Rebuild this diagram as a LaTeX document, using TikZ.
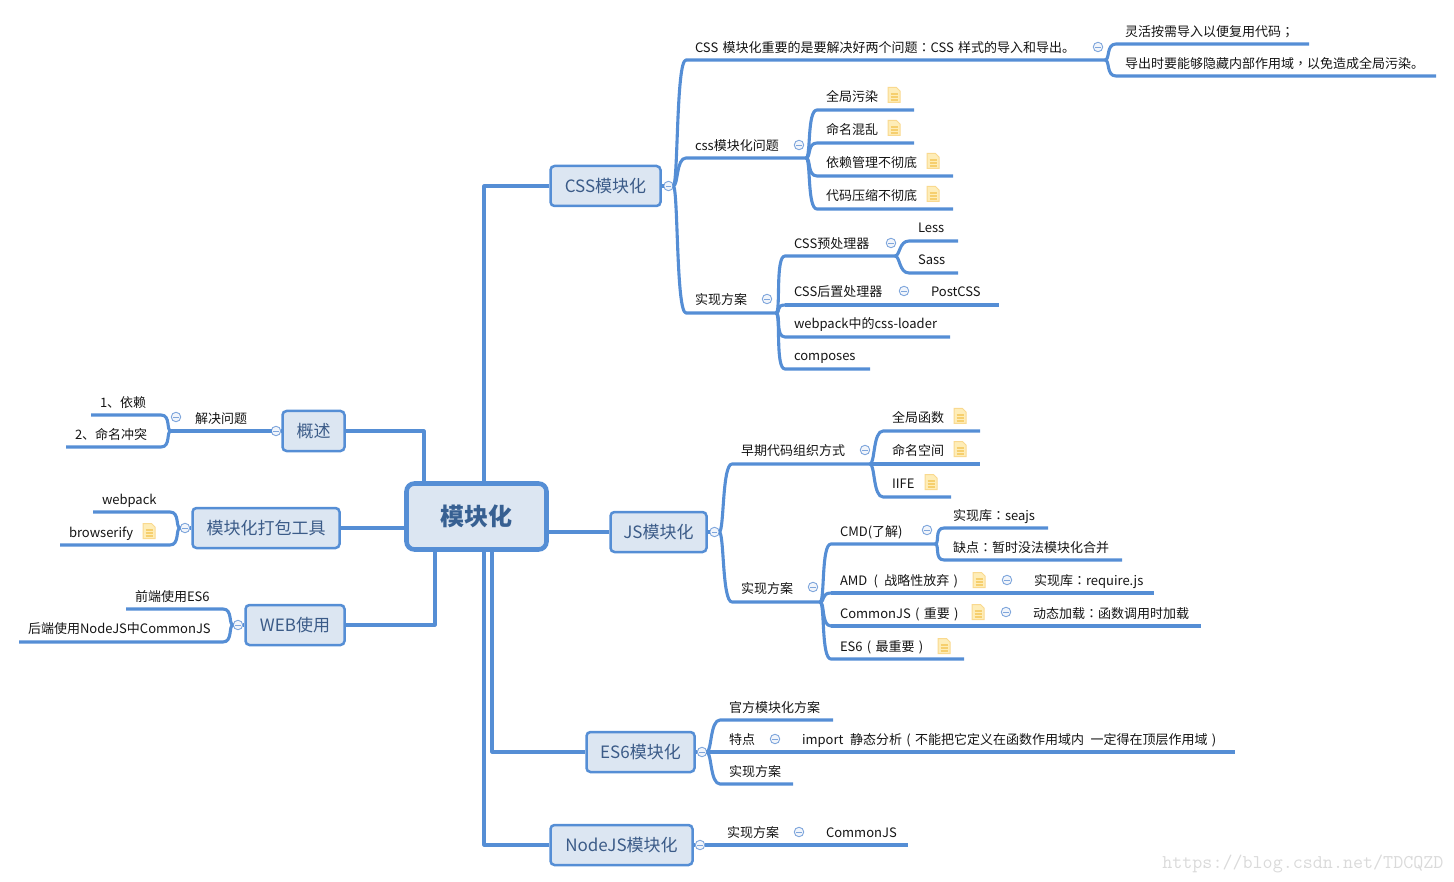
\documentclass[tikz,border=0pt]{standalone}
\usepackage{fontspec}
\setmainfont{Noto Sans CJK SC}
\newfontfamily\tcfont{Noto Sans CJK TC}
\newcommand{\pu}[1]{{\tcfont #1}}
\newcommand{\lpar}[1][13pt]{\makebox[#1]{(}}
\newcommand{\rpar}{\makebox[13pt]{)}}
\usetikzlibrary{calc}
\definecolor{linkc}{HTML}{558ED5}
\definecolor{boxfill}{HTML}{DCE6F2}
\definecolor{boxtext}{HTML}{3B5B88}
\definecolor{roottext}{HTML}{376092}
\definecolor{foldc}{HTML}{7FA6DC}
\definecolor{foldfill}{HTML}{F1F5FB}
\definecolor{notefill}{HTML}{FEEDB8}
\definecolor{noteline}{HTML}{F9D98F}
\definecolor{notebar}{HTML}{F6CF6E}
\definecolor{inkc}{HTML}{141414}
\definecolor{markc}{HTML}{DADADA}
\tikzset{
  link/.style={draw=linkc, line width=3.1pt, line join=round},
  fork/.style={to path={.. controls ($(\tikztostart)+(#1*5,0)$) and ($(\tikztotarget)+(#1*-10,0)$) .. (\tikztotarget)}},
  fork/.default=1,
  root/.style={draw=linkc, fill=boxfill, line width=4.6pt, rounded corners=8pt, minimum width=140pt, minimum height=66pt, font=\fontsize{24}{24}\selectfont\bfseries, text=roottext},
  topic/.style={draw=linkc, fill=boxfill, line width=2.5pt, rounded corners=4pt, minimum height=40pt, inner sep=0pt, font=\fontsize{17}{17}\selectfont, text=boxtext},
  leaf/.style={anchor=south west, inner xsep=9pt, inner ysep=0pt, outer sep=0pt, text width={#1pt-18pt}, align=left, text height=10pt, text depth=8pt, font=\fontsize{13}{13}\selectfont, text=inkc},
  fold/.style={circle, draw=foldc, fill=foldfill, line width=0.9pt, minimum size=9.5pt, inner sep=0pt, outer sep=0pt,
    path picture={\draw[draw=foldc, line width=0.8pt] ([xshift=2pt]path picture bounding box.west) -- ([xshift=-2pt]path picture bounding box.east);}},
  note/.pic={
    \filldraw[draw=noteline, fill=notefill, line width=1pt] (-6,-7.5)--(2.5,-7.5)--(6,-4)--(6,7.5)--(-6,7.5)--cycle;
    \draw[draw=notebar, line width=1.3pt] (-3.5,-1)--(3.5,-1) (-3.5,2)--(3.5,2) (-3.5,5)--(3.5,5);
  },
}
\begin{document}
\begin{tikzpicture}[x=1pt, y=-1pt]
  \useasboundingbox (0,0) rectangle (1454,882);
  % main boxes
  \node[root] (main) at (476.5,516.5) {模块化};
  \node[topic, minimum width=110pt] (css) at (605.5,186) {CSS模块化};
  \node[topic, minimum width=96pt] (js) at (658.5,532) {JS模块化};
  \node[topic, minimum width=108pt] (es) at (640.5,752) {ES6模块化};
  \node[topic, minimum width=142pt] (nd) at (621.5,845) {NodeJS模块化};
  \node[topic, minimum width=62pt] (gs) at (313.5,431) {概述};
  \node[topic, minimum width=147pt] (pk) at (266,528) {模块化打包工具};
  \node[topic, minimum width=99pt] (wb) at (295,625) {WEB使用};
  % css
  \node[fold] (cssf) at (668.5,186) {};
  \node[leaf=419, text depth=7pt] (cssa) at (686,60) {CSS 模块化重要的是要解决好两个问题\pu{：}CSS 样式的导入和导出。};
  \node[fold] (cssaf) at (1098,47) {};
  \node[leaf=193, text depth=7pt] (cssa1) at (1116,44) {灵活按需导入以便复用代码\pu{；}};
  \node[leaf=320, text depth=7pt] (cssa2) at (1116,76) {导出时要能够隐藏内部作用域\pu{，}以免造成全局污染。};
  \node[leaf=120, text depth=7pt] (cssb) at (686,158) {css模块化问题};
  \node[fold] (cssbf) at (799,145) {};
  \node[leaf=97] (cssb1) at (817,110) {全局污染};
  \node[leaf=97] (cssb2) at (817,143) {命名混乱};
  \node[leaf=136] (cssb3) at (817,176) {依赖管理不彻底};
  \node[leaf=136] (cssb4) at (817,209) {代码压缩不彻底};
  \node[leaf=90] (cssc) at (686,313) {实现方案};
  \node[fold] (csscf) at (767,299) {};
  \node[leaf=110, text depth=7pt] (cssc1) at (785,256) {CSS预处理器};
  \node[fold] (cssc1f) at (891,243) {};
  \node[leaf=49] (less) at (909,241) {Less};
  \node[leaf=49] (sass) at (909,273) {Sass};
  \node[leaf=137] (cssc2) at (785,305) {CSS后置处理器};
  \node[fold] (cssc2f) at (904,291) {};
  \node[leaf=77] (postcss) at (922,305) {PostCSS};
  \node[leaf=165] (cssc3) at (785,337) {webpack中的css-loader};
  \node[leaf=85] (cssc4) at (785,369) {composes};
  % js
  \node[fold] (jsf) at (714.5,532) {};
  \node[leaf=138] (jsa) at (732,464) {早期代码组织方式};
  \node[fold] (jsaf) at (865,450) {};
  \node[leaf=97] (jsa1) at (883,431) {全局函数};
  \node[leaf=97] (jsa2) at (883,464) {命名空间};
  \node[leaf=68, text depth=9pt] (jsa3) at (883,497) {IIFE};
  \node[leaf=88, text depth=8.5pt] (jsb) at (732,602) {实现方案};
  \node[fold] (jsbf) at (813,587) {};
  \node[leaf=104] (cmd) at (831,544) {CMD(了解)};
  \node[fold] (cmdf) at (927,530) {};
  \node[leaf=104] (cmd1) at (944,528) {实现库\pu{：}seajs};
  \node[leaf=178] (cmd2) at (944,560) {缺点\pu{：}暂时没法模块化合并};
  \node[leaf=194] (amd) at (831,593) {AMD\lpar[17pt]战略性放弃\rpar};
  \node[fold] (amdf) at (1007,580) {};
  \node[leaf=129] (amd1) at (1025,593) {实现库\pu{：}require.js};
  \node[leaf=193] (cjs) at (831,626) {CommonJS\lpar 重要\rpar};
  \node[fold] (cjsf) at (1006,612) {};
  \node[leaf=177] (cjs1) at (1024,626) {动态加载\pu{：}函数调用时加载};
  \node[leaf=133] (esm) at (831,659) {ES6\lpar 最重要\rpar};
  % es6
  \node[fold] (esf) at (702,752) {};
  \node[leaf=113] (esa) at (720,720) {官方模块化方案};
  \node[leaf=73] (esb) at (720,752) {特点};
  \node[fold] (esbf) at (775,739) {};
  \node[leaf=442] (esb1) at (793,752) {import\enspace 静态分析\lpar 不能把它定义在函数作用域内\enspace 一定得在顶层作用域\rpar};
  \node[leaf=73] (esc) at (720,784) {实现方案};
  % nodejs
  \node[fold] (ndf) at (700,845) {};
  \node[leaf=99] (nda) at (718,845) {实现方案};
  \node[fold] (ndaf) at (799,832) {};
  \node[leaf=91] (nda1) at (817,845) {CommonJS};
  % left side
  \node[fold] (gsf) at (276,431) {};
  \node[leaf=100, align=center, text depth=7pt] (gsa) at (171,431) {解决问题};
  \node[fold] (gsaf) at (176,417) {};
  \node[leaf=70, text depth=7pt] (gsa1) at (91,415) {1、依赖};
  \node[leaf=95] (gsa2) at (66,447) {2、命名冲突};
  \node[fold] (pkf) at (185,528) {};
  \node[leaf=77] (pka) at (93,512) {webpack};
  \node[leaf=110] (pkb) at (60,545) {browserify};
  \node[fold] (wbf) at (238,625) {};
  \node[leaf=97] (wba) at (126,609) {前端使用ES6};
  \node[leaf=204, text depth=9pt] (wbb) at (19,642) {后端使用NodeJS中CommonJS};
  % notes
  \foreach \nx/\ny in {894/95, 894/128, 933/161, 933/194, 960/416, 960/449, 931/482, 979/580, 978/612, 944/646, 149/531}
    \pic at (\nx,\ny) {note};
  % connectors
  \draw[link] (css.west) -| ([xshift=7.5pt]main.north);
  \draw[link] (js.west) -- (js.west -| main.east);
  \draw[link] (es.west) -| ([xshift=15.5pt]main.south);
  \draw[link] (nd.west) -| ([xshift=7.5pt]main.south);
  \draw[link] (gs.east) -| ([xshift=-52.5pt]main.north);
  \draw[link] (pk.east) -- (pk.east -| main.west);
  \draw[link] (wb.east) -| ([xshift=-41.5pt]main.south);
  \draw[link] (css.east) -- (cssf.west);
  \draw[link] (js.east) -- (jsf.west);
  \draw[link] (es.east) -- (esf.west);
  \draw[link] (nd.east) -- (ndf.west);
  \draw[link] (gs.west) -- (gsf.east);
  \draw[link] (pk.west) -- (pkf.east);
  \draw[link] (wb.west) -- (wbf.east);
  \foreach \a/\b in {cssf/cssa, cssf/cssb, cssf/cssc, jsf/jsa, jsf/jsb, esf/esa, esf/esc}
    \draw[link] (\a.east) to[fork] (\b.south west) -- (\b.south east);
  \foreach \a/\b in {cssa/cssa1, cssa/cssa2, cssb/cssb1, cssb/cssb2, cssb/cssb3, cssb/cssb4, cssc/cssc1, cssc/cssc2, cssc/cssc3, cssc/cssc4,
    cssc1/less, cssc1/sass, jsa/jsa1, jsa/jsa2, jsa/jsa3, jsb/cmd, jsb/amd, jsb/cjs, jsb/esm, cmd/cmd1, cmd/cmd2}
    \draw[link] (\a.south east) to[fork] (\b.south west) -- (\b.south east);
  \foreach \a/\b in {cssc2/postcss, amd/amd1, cjs/cjs1, nda/nda1, esb/esb1}
    \draw[link] (\a.south west) -- (\a.south east) -- (\b.south west) -- (\b.south east);
  \draw[link] (esf.east) -- (esb.south west);
  \draw[link] (ndf.east) -- (nda.south west);
  \draw[link] (gsf.west) -- (gsa.south east) -- (gsa.south west);
  \foreach \a/\b in {gsa.south west/gsa1, gsa.south west/gsa2, pkf.west/pka, pkf.west/pkb, wbf.west/wba, wbf.west/wbb}
    \draw[link] (\a) to[fork=-1] (\b.south east) -- (\b.south west);
  \node[text=markc, font=\fontsize{19.5}{19.5}\selectfont\ttfamily, anchor=east] (mark) at (1447,864) {https://blog.csdn.net/TDCQZD};
\end{tikzpicture}
\end{document}
